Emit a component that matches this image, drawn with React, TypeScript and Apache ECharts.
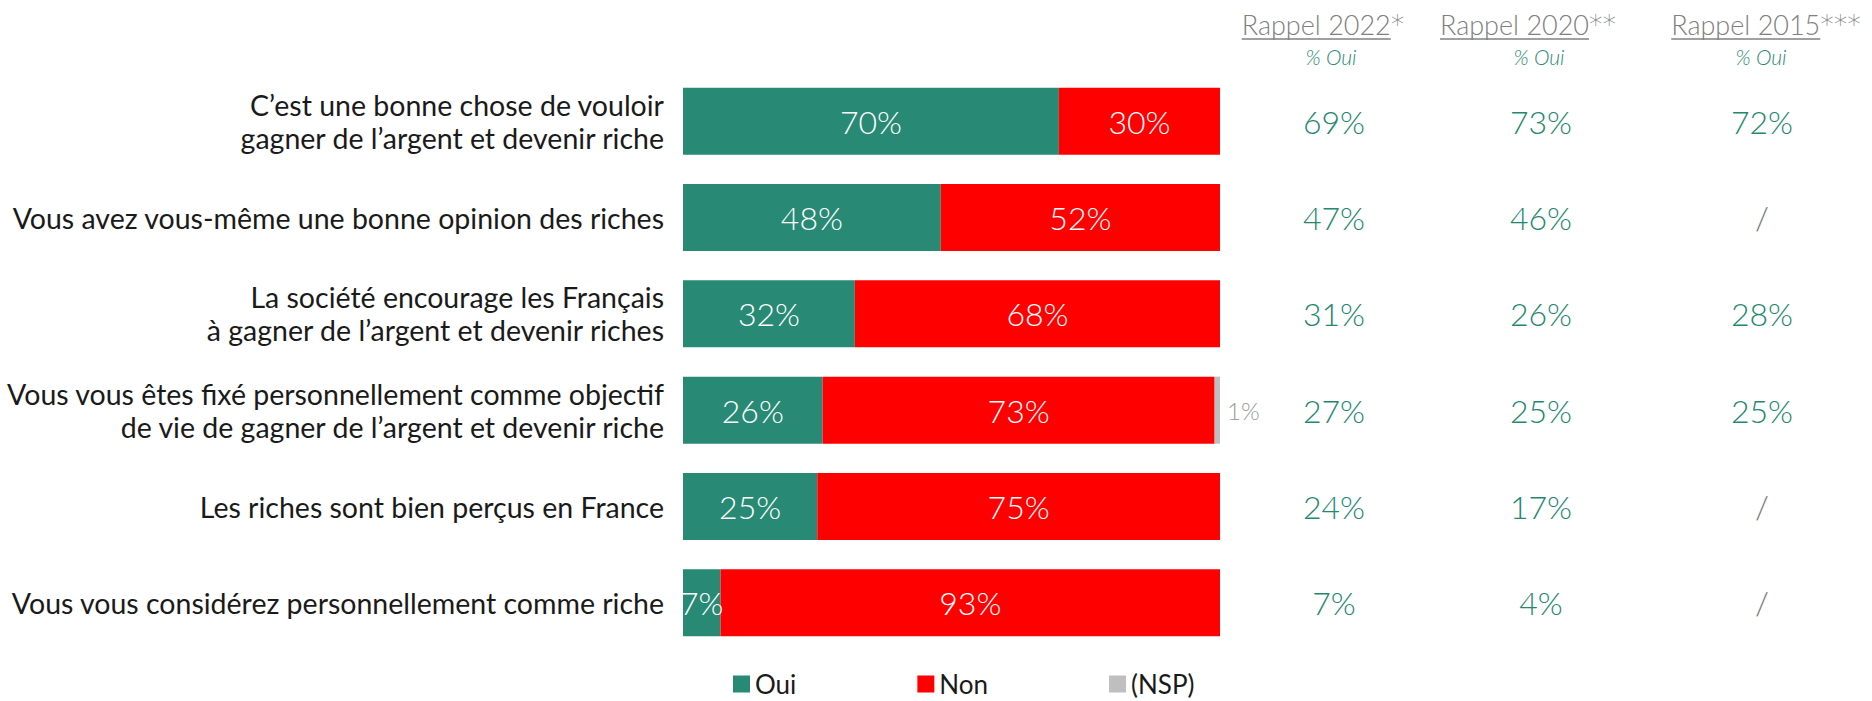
import React, { useEffect, useRef } from "react";
import * as echarts from "echarts";

const categories = [
  "C’est une bonne chose de vouloir\ngagner de l’argent et devenir riche",
  "Vous avez vous-même une bonne opinion des riches",
  "La société encourage les Français\nà gagner de l’argent et devenir riches",
  "Vous vous êtes fixé personnellement comme objectif\nde vie de gagner de l’argent et devenir riche",
  "Les riches sont bien perçus en France",
  "Vous vous considérez personnellement comme riche",
];
const oui = [70, 48, 32, 26, 25, 7];
const non = [30, 52, 68, 73, 75, 93];
const nsp = [0, 0, 0, 1, 0, 0];
const rappel2022: (number | null)[] = [69, 47, 31, 27, 24, 7];
const rappel2020: (number | null)[] = [73, 46, 26, 25, 17, 4];
const rappel2015: (number | null)[] = [72, null, 28, 25, null, null];
const headers = [
  { label: "Rappel 2022", stars: "*" },
  { label: "Rappel 2020", stars: "**" },
  { label: "Rappel 2015", stars: "***" },
];
const legendNames = ["Oui", "Non", "(NSP)"];

const GREEN = "#288a74";
const RED = "#ff0000";
const GREY = "#bfbfbf";
const FONT = "Lato";

const W = 1872;
const H = 701;
const BAR_LEFT = 683;
const BAR_RIGHT = 1220;
const COL_X = [1334, 1541, 1762];
const HEAD_X = [1323, 1528, 1766];
const SUB_X = [1331, 1539, 1761];

function measure(text: string, font: string): number {
  const c = document.createElement("canvas");
  const ctx = c.getContext("2d");
  if (!ctx) return text.length * 12;
  ctx.font = font;
  return ctx.measureText(text).width;
}

export default function App() {
  const ref = useRef<HTMLDivElement>(null);
  useEffect(() => {
    if (!ref.current) return;
    const chart = echarts.init(ref.current, undefined, { renderer: "svg" });
    const cols = [rappel2022, rappel2020, rappel2015];

    const headFont = `300 27px ${FONT}`;
    const starFont = `300 27px "DejaVu Sans"`;
    const graphics: any[] = [];
    headers.forEach((h, i) => {
      const wl = measure(h.label, headFont);
      const ws = measure(h.stars, starFont);
      const left = HEAD_X[i] - (wl + ws) / 2;
      graphics.push({
        type: "text",
        x: left,
        y: 24,
        style: {
          text: h.label,
          fill: "#808080",
          font: headFont,
          verticalAlign: "middle",
          align: "left",
        },
      });
      graphics.push({
        type: "text",
        x: left + wl,
        y: 24,
        style: {
          text: h.stars,
          fill: "#808080",
          font: starFont,
          verticalAlign: "middle",
          align: "left",
        },
      });
      graphics.push({
        type: "line",
        shape: { x1: left, y1: 39, x2: left + wl, y2: 39 },
        style: { stroke: "#808080", lineWidth: 1.5 },
      });
      graphics.push({
        type: "text",
        x: SUB_X[i],
        y: 56,
        style: {
          text: "% Oui",
          fill: GREEN,
          font: `italic 300 21px ${FONT}`,
          verticalAlign: "middle",
          align: "center",
        },
      });
    });

    const rightAxes = cols.map((vals, i) => ({
      type: "category",
      data: categories,
      inverse: true,
      position: "right",
      axisLine: { show: false },
      axisTick: { show: false },
      axisLabel: {
        margin: COL_X[i] - BAR_RIGHT,
        align: "center",
        formatter: (_v: string, idx: number) =>
          vals[idx] == null ? "{s|/}" : `{g|${vals[idx]}%}`,
        rich: {
          g: { color: "#248770", fontSize: 32, fontFamily: FONT, fontWeight: 300 },
          s: { color: "#777777", fontSize: 32, fontFamily: FONT, fontWeight: 300 },
        },
      },
    }));

    const pctFmt = (p: any) => (p.value > 0 ? `${p.value}%` : "");

    chart.setOption({
      animation: false,
      backgroundColor: "#ffffff",
      grid: {
        left: BAR_LEFT,
        right: W - BAR_RIGHT,
        top: 73,
        bottom: H - 651,
        containLabel: false,
      },
      legend: {
        data: legendNames,
        left: 733,
        top: 671,
        padding: 0,
        icon: "rect",
        itemWidth: 17,
        itemHeight: 17,
        itemGap: 121,
        textStyle: {
          fontSize: 26,
          lineHeight: 26,
          fontFamily: FONT,
          fontWeight: 400,
          color: "#1a1a1a",
        },
      },
      xAxis: { type: "value", min: 0, max: 100, show: false },
      yAxis: [
        {
          type: "category",
          data: categories,
          inverse: true,
          axisLine: { show: false },
          axisTick: { show: false },
          axisLabel: {
            margin: 19,
            align: "right",
            fontSize: 28.5,
            lineHeight: 33,
            fontFamily: FONT,
            fontWeight: 400,
            color: "#1a1a1a",
          },
        },
        ...rightAxes,
      ],
      graphic: graphics,
      series: [
        {
          name: "Oui",
          type: "bar",
          stack: "total",
          data: oui,
          barWidth: 67,
          itemStyle: { color: GREEN },
          label: {
            show: true,
            position: "inside",
            formatter: pctFmt,
            color: "#ffffff",
            fontSize: 32,
            fontFamily: FONT,
            fontWeight: 300,
          },
        },
        {
          name: "Non",
          type: "bar",
          stack: "total",
          data: non,
          barWidth: 67,
          itemStyle: { color: RED },
          label: {
            show: true,
            position: "inside",
            formatter: pctFmt,
            color: "#ffffff",
            fontSize: 32,
            fontFamily: FONT,
            fontWeight: 300,
          },
        },
        {
          name: "(NSP)",
          type: "bar",
          stack: "total",
          data: nsp,
          barWidth: 67,
          itemStyle: { color: GREY },
          label: {
            show: true,
            position: "right",
            distance: 7,
            formatter: pctFmt,
            color: "#999999",
            fontSize: 24,
            fontFamily: FONT,
            fontWeight: 300,
          },
        },
      ],
    });
    return () => chart.dispose();
  }, []);
  return (
    <div
      ref={ref}
      style={{ position: "fixed", left: 0, top: 0, width: W, height: H, background: "#fff" }}
    />
  );
}
